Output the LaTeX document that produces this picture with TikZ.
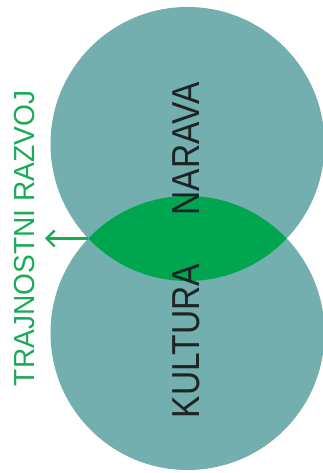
\documentclass[tikz,border=0pt]{standalone}
\usepackage{fontspec}
\newfontfamily\labelfont{Liberation Sans}[FakeStretch=0.86]
\newfontfamily\sidefont{Liberation Sans}[FakeStretch=0.97]
\usepackage{tikz}
\usetikzlibrary{calc,arrows.meta}
\usetikzlibrary{positioning}
\definecolor{circteal}{HTML}{72AFAE}
\definecolor{lensgreen}{HTML}{00A64F}
\definecolor{textgreen}{HTML}{1BAA58}
\definecolor{textblack}{HTML}{1E2424}
\tikzset{
  bigcircle/.style={circle, fill=circteal, minimum size=274pt, inner sep=0pt},
  blacklabel/.style={rotate=90, anchor=base, text=textblack, inner sep=0pt,
    font=\labelfont\fontsize{39}{39}\selectfont},
  greenlabel/.style={rotate=90, anchor=base, text=textgreen, inner sep=0pt,
    font=\sidefont\fontsize{29}{29}\selectfont}
}

\begin{document}
\begin{tikzpicture}[x=1pt, y=1pt]
\useasboundingbox (0,0) rectangle (323,473);
\clip (0,0) rectangle (323,473);
%% the two circles
\node[bigcircle] (narava) at (187.5,329) {};
\node[bigcircle] (kultura) at (187.5,140) {};
%% overlap
\begin{scope}
\clip (narava.center) circle (137);
\fill[lensgreen] (kultura.center) circle (137);
\end{scope}
%% labels
\node[blacklabel] (narlabel) at (199,324) {NARAVA};
\node[blacklabel] (kullabel) at (199,132) {KULTURA};
\node[greenlabel] (trajlabel) at (34,234.5) {TRAJNOSTNI RAZVOJ};
%%% arrow out of the overlap
\coordinate (lensleft) at (88.3,234.5);
\coordinate (arrowend) at (45,234.5);
\draw[textgreen, line width=2.4pt, -{Straight Barb[length=8pt, width=16pt]}] (lensleft) -- (arrowend);
\end{tikzpicture}
\end{document}
